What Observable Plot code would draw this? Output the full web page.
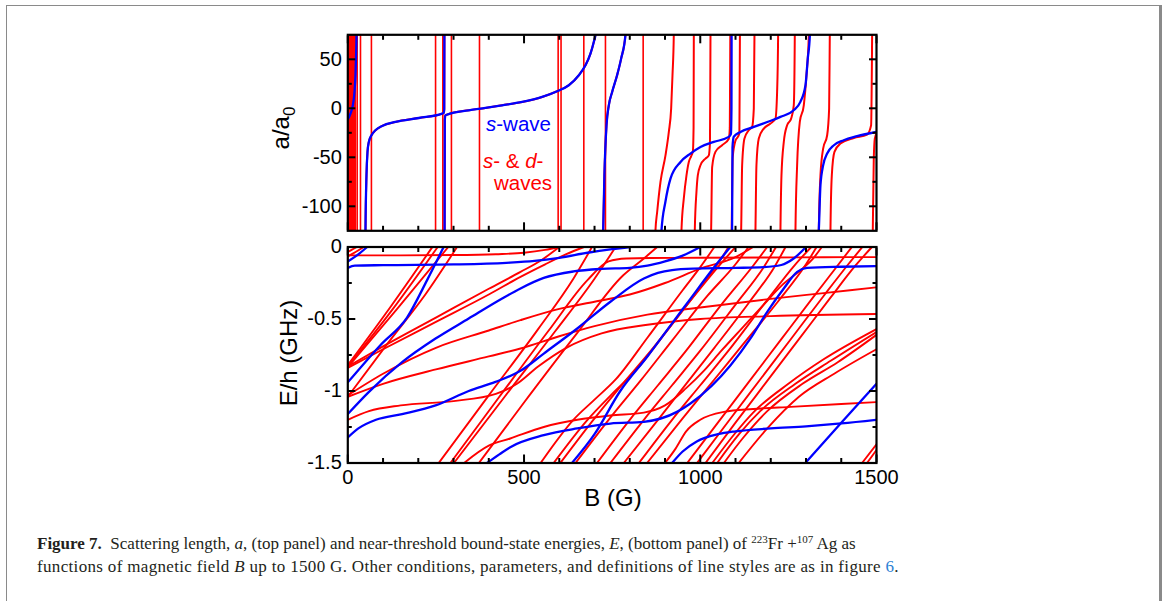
<!DOCTYPE html>
<html><head><meta charset="utf-8">
<script src="https://cdn.jsdelivr.net/npm/d3@7"></script>
<script src="https://cdn.jsdelivr.net/npm/@observablehq/plot@0.6"></script>
<style>
html,body{margin:0;padding:0;background:#fff;}
#page{position:relative;width:1174px;height:601px;overflow:hidden;font-family:"Liberation Sans",Arial,sans-serif;}
#frame{position:absolute;left:6px;top:5px;width:1152px;height:700px;border-left:1px solid #8a8a8a;border-top:1px solid #8a8a8a;border-right:3px solid #8a8a8a;}
#topchart{position:absolute;left:0;top:0;}
#botchart{position:absolute;left:0;top:236px;}
#caption{position:absolute;left:37px;top:532px;font-family:"Liberation Serif","Times New Roman",serif;font-size:17px;line-height:23px;color:#231f20;white-space:nowrap;}
#caption sup{font-size:11px;vertical-align:6px;line-height:0;}
#caption .l2{letter-spacing:0.33px;}
</style></head>
<body><div id="page"><div id="frame"></div><div id="topchart"></div><div id="botchart"></div>
<div id="caption"><b>Figure 7.</b>&nbsp; Scattering length, <i>a</i>, (top panel) and near-threshold bound-state energies, <i>E</i>, (bottom panel) of <sup>223</sup>Fr +<sup>107</sup> Ag as<br><span class="l2">functions of magnetic field <i>B</i> up to 1500 G. Other conditions, parameters, and definitions of line styles are as in figure <span style="color:#2a7fd4">6</span>.</span></div>
</div>
<script>
// ---------- axes / ticks ----------
const xMajor = [0, 500, 1000, 1500];
const xMinor = [100, 200, 300, 400, 600, 700, 800, 900, 1100, 1200, 1300, 1400];
const topYMajor = [50, 0, -50, -100];
const topYMinor = [25, -25, -75];
const botYMajor = [0, -0.5, -1, -1.5];
const botYMinor = [-0.25, -0.75, -1.25];

// ---------- top panel: a/a0 vs B ----------
// s-wave (blue) branches [B, a]
const topBlue = [
  [[0,-11.5],[7.6,-5.4],[14.3,3],[19,16.7],[21.8,33.7],[23.7,57.5],[24.7,75],[25.2,95]],
  [[50,-140],[50.2,-124.5],[53,-68.4],[55.9,-44.5],[59.7,-34.3],[67.2,-27.5],[78.6,-22.4],[97.5,-18],[135.3,-13.9],[201.5,-9.9],[267.7,-5.4],[272.5,-4.5],[273.6,-1],[274.2,95]],
  [[274.6,-140],[275.2,-12],[277,-7.2],[281.9,-6.4],[343.3,-2],[390.6,0.4],[437.9,3.1],[494.6,6.5],[551.4,11.6],[593.9,17.4],[627,23.5],[655.4,33.7],[674.3,43.9],[688.5,55.8],[697.9,67.7],[702.7,75.2],[705,95]],
  [[722,-140],[724.5,-124.5],[728,-68.4],[734,-17.3],[740.5,3],[750,16.7],[764,33.7],[775.5,50.7],[787.8,75.2],[790,95]],
  [[888,-140],[890,-124.5],[901,-95.6],[915.5,-71.7],[944,-54.7],[972,-46.2],[1000.6,-39.4],[1038.4,-34.3],[1081,-29.2],[1087,-26],[1088.5,0],[1089,95]],
  [[1090,-140],[1091.4,-40],[1095,-29],[1114,-24.1],[1152,-19],[1190,-14],[1227.5,-8.8],[1265,-2],[1284,6.5],[1298.5,23.5],[1305,50.7],[1311,75.2],[1313,95]],
  [[1334,-140],[1336.3,-124.5],[1341,-78.5],[1348.6,-58.2],[1360,-46.2],[1379,-37.7],[1407,-32.6],[1445,-28.5],[1500,-24.1]]
];
// s- & d-wave (red) branches [B, a]
const topRed = [
  [[0,-11.5],[7.6,-5.4],[14.3,3],[19,16.7],[21.8,33.7],[23.7,57.5],[24.7,75],[25.2,95]],
  [[50,-140],[50.2,-124.5],[53,-68.4],[55.9,-44.5],[59.7,-34.3],[67.2,-27.5],[78.6,-22.4],[97.5,-18],[135.3,-13.9],[201.5,-9.9],[267.7,-5.4],[272.5,-4.5],[273.6,-1],[274.2,95]],
  [[274.6,-140],[275.2,-12],[277,-7.2],[281.9,-6.4],[343.3,-2],[390.6,0.4],[437.9,3.1],[494.6,6.5],[551.4,11.6],[593.9,17.4],[627,23.5],[655.4,33.7],[674.3,43.9],[688.5,55.8],[697.9,67.7],[702.7,75.2],[705,95]],
  [[722,-140],[724.5,-124.5],[728,-68.4],[734,-17.3],[740.5,3],[750,16.7],[764,33.7],[775.5,50.7],[787.8,75.2],[790,95]],
  [[872,-140],[872.9,-124.5],[877.7,-105.8],[887.1,-75.2],[901.3,-48],[910.8,-24.1],[917.4,-0.3],[921.2,33.7],[924.9,75.2],[925.5,95]],
  [[946,-140],[946.7,-124.5],[953.3,-92],[960.9,-68.4],[967.5,-54.7],[974,-49],[979,-44],[981,-20],[981.7,75],[982,95]],
  [[984,-140],[984.5,-124.5],[989.2,-85.3],[993,-68.4],[1000.6,-58.1],[1014.8,-51.3],[1024.2,-48],[1027.5,-35],[1029,75],[1029.3,95]],
  [[1029.5,-140],[1030.8,-124.5],[1033.7,-60],[1043,-44.5],[1062,-37.7],[1081,-31],[1083.8,-20],[1085.2,75],[1085.5,95]],
  [[1088,-140],[1089,-124.5],[1092,-50],[1099.9,-33],[1107,-29],[1111,-25],[1112.5,75],[1113,95]],
  [[1114,-140],[1116,-124.5],[1118.8,-58.1],[1125.4,-30.9],[1137.7,-22.4],[1147.1,-19],[1151.9,-0.3],[1153.8,75.2],[1154,95]],
  [[1156,-140],[1156.6,-124.5],[1159.4,-58.1],[1166,-30.9],[1180.2,-20.7],[1199.2,-15.6],[1213.3,-10.5],[1218,16.7],[1220.9,75.2],[1221,95]],
  [[1227,-140],[1227.5,-124.5],[1230.4,-68.4],[1237,-34.3],[1246.4,-17.3],[1257.8,-10.5],[1265.3,3],[1268.2,75.2],[1268.5,95]],
  [[1270,-140],[1270.1,-124.5],[1274.8,-58.1],[1282.4,-13.9],[1293.7,3.1],[1301.3,33.7],[1308,75.2],[1309,95]],
  [[1336,-140],[1336.3,-124.5],[1341,-68.4],[1348.6,-41.1],[1360,-27.5],[1365.6,-0.3],[1367.5,75.2],[1368,95]],
  [[1369,-140],[1369.4,-124.5],[1373.2,-68.4],[1380.7,-44.5],[1397.7,-36],[1435.6,-30.3],[1473.4,-26.9],[1484.7,-17.3],[1487.6,75.2],[1488,95]],
  [[1489,-140],[1489.5,-124.5],[1492.3,-51.3],[1495.2,-30.9],[1500,-25.8]]
];
// narrow s&d resonances (B positions, G)
const topRedPoles = [0.8, 2.6, 4.4, 6.2, 8, 9.8, 11.6, 13.4, 15.2, 17.2, 19.2, 21.2, 26.6, 36, 67, 249, 269.6, 294, 373.6, 596.8, 605, 669.6, 731, 838];

// ---------- bottom panel: E/h (GHz) vs B ----------
const botBlue = [
  [[0,-0.1],[25,-0.06],[55,0]],
  [[0,-0.94],[93,-0.68],[168,-0.49],[225,-0.23],[272,0]],
  [[0,-0.145],[20,-0.13],[100,-0.126],[300,-0.121],[450,-0.11],[530,-0.097],[600,-0.075],[680,-0.04],[750,-0.015],[800,0]],
  [[0,-1.16],[60,-1.006],[154,-0.8],[249,-0.636],[343,-0.497],[438,-0.358],[490,-0.288],[556,-0.215],[640,-0.17],[720,-0.152],[800,-0.145],[850,-0.13],[900,-0.1],[950,-0.06],[1000,0]],
  [[0,-1.323],[30,-1.26],[80,-1.2],[154,-1.16],[249,-1.1],[343,-1.0],[419,-0.937],[490,-0.86],[556,-0.74],[651,-0.566],[745,-0.38],[840,-0.219],[880,-0.18],[920,-0.16],[980,-0.15],[1100,-0.145],[1180,-0.14],[1230,-0.125],[1265,-0.08],[1300,0]],
  [[395,-1.5],[430,-1.44],[461,-1.39],[556,-1.307],[651,-1.26],[745,-1.226],[840,-1.214],[934,-1.145],[972,-1.087],[1086,-0.821],[1142,-0.636],[1190,-0.45],[1237,-0.288],[1275,-0.173],[1303,-0.145],[1400,-0.137],[1500,-0.133]],
  [[636,-1.5],[700,-1.3],[773,-1.0],[850,-0.76],[920,-0.53],[972,-0.36],[1030,-0.17],[1085,0]],
  [[920,-1.5],[950,-1.42],[990,-1.35],[1050,-1.3],[1100,-1.28],[1200,-1.26],[1300,-1.245],[1400,-1.225],[1500,-1.2]],
  [[1298,-1.5],[1400,-1.22],[1500,-0.95]]
];
const botRed = [
  [[0,-0.035],[12,-0.018],[26,0]],
  [[0,-0.065],[22,-0.035],[45,0]],
  [[0,-0.058],[150,-0.058],[300,-0.056],[420,-0.05],[500,-0.04],[560,-0.02],[600,0]],
  [[0,-0.82],[120,-0.42],[240,0]],
  [[0,-0.83],[128,-0.43],[255,0]],
  [[0,-0.835],[140,-0.43],[285,0]],
  [[0,-1.04],[110,-0.68],[220,-0.33],[310,0]],
  [[0,-0.83],[100,-0.69],[250,-0.49],[400,-0.29],[490,-0.173],[550,-0.09],[600,0]],
  [[0,-0.84],[100,-0.71],[250,-0.52],[400,-0.33],[490,-0.207],[560,-0.12],[620,-0.05],[670,0]],
  [[0,-1.03],[100,-0.88],[250,-0.7],[400,-0.58],[490,-0.508],[600,-0.43],[700,-0.38],[800,-0.33],[900,-0.25],[1000,-0.15],[1100,-0.07],[1150,0]],
  [[0,-1.04],[100,-0.95],[250,-0.85],[400,-0.76],[490,-0.705],[600,-0.62],[700,-0.55],[850,-0.47],[1000,-0.42],[1200,-0.36],[1350,-0.32],[1500,-0.28]],
  [[0,-1.2],[60,-1.14],[150,-1.1],[300,-1.07],[420,-1.02],[480,-0.95],[540,-0.83],[620,-0.7],[720,-0.6],[850,-0.54],[1000,-0.5],[1200,-0.48],[1500,-0.465]],
  [[372,-1.5],[500,-1.08],[650,-0.6],[780,-0.2],[840,-0.08],[878,0]],
  [[258,-1.5],[400,-1.03],[540,-0.57],[640,-0.22],[693,0]],
  [[291,-1.5],[430,-1.04],[570,-0.58],[680,-0.23],[740,-0.1],[790,-0.08],[860,-0.076],[1000,-0.075],[1200,-0.073],[1350,-0.071],[1500,-0.07]],
  [[301,-1.5],[445,-1.04],[590,-0.58],[700,-0.22],[760,0]],
  [[547,-1.5],[640,-1.2],[700,-1.06],[760,-0.92],[850,-0.63],[950,-0.3],[1000,-0.14],[1040,0]],
  [[584,-1.5],[680,-1.2],[750,-1.02],[820,-0.85],[900,-0.6],[1000,-0.28],[1060,-0.08],[1080,0]],
  [[603,-1.5],[700,-1.19],[780,-0.95],[860,-0.72],[950,-0.44],[1050,-0.14],[1100,0]],
  [[646,-1.5],[740,-1.2],[830,-0.93],[920,-0.65],[1020,-0.34],[1100,-0.12],[1137,0]],
  [[707,-1.5],[800,-1.2],[880,-0.96],[960,-0.72],[1060,-0.4],[1150,-0.13],[1190,0]],
  [[745,-1.5],[840,-1.2],[920,-0.96],[1000,-0.72],[1100,-0.4],[1180,-0.14],[1215,0]],
  [[783,-1.5],[880,-1.2],[960,-0.95],[1040,-0.7],[1140,-0.38],[1210,-0.14],[1242,0]],
  [[826,-1.5],[920,-1.2],[1000,-0.96],[1080,-0.72],[1180,-0.4],[1270,-0.12],[1315,0]],
  [[849,-1.5],[950,-1.19],[1040,-0.92],[1120,-0.68],[1220,-0.38],[1300,-0.12],[1330,0]],
  [[963,-1.5],[1050,-1.22],[1140,-0.93],[1230,-0.64],[1320,-0.35],[1380,-0.16],[1430,0]],
  [[991,-1.5],[1080,-1.21],[1170,-0.92],[1260,-0.63],[1350,-0.34],[1420,-0.12],[1460,0]],
  [[1015,-1.5],[1100,-1.22],[1190,-0.93],[1280,-0.64],[1370,-0.35],[1440,-0.13],[1487,0]],
  [[1034,-1.5],[1100,-1.29],[1150,-1.15],[1250,-0.95],[1350,-0.78],[1500,-0.57]],
  [[1048,-1.5],[1110,-1.3],[1170,-1.14],[1270,-0.95],[1370,-0.79],[1500,-0.59]],
  [[1067,-1.5],[1120,-1.33],[1190,-1.14],[1290,-0.95],[1390,-0.8],[1500,-0.61]],
  [[1109,-1.5],[1190,-1.26],[1280,-1.04],[1380,-0.88],[1500,-0.71]],
  [[900,-1.5],[930,-1.4],[960,-1.28],[1000,-1.2],[1067,-1.145],[1150,-1.125],[1256,-1.11],[1400,-1.09],[1500,-1.077]],
  [[1459,-1.5],[1500,-1.37]],
  [[1473,-1.5],[1500,-1.41]],
  [[330,-1.5],[400,-1.38],[461,-1.33],[556,-1.25],[651,-1.2],[745,-1.17],[840,-1.15],[900,-1.1],[960,-0.98],[1010,-0.86],[1060,-0.72],[1120,-0.56],[1180,-0.4],[1230,-0.27],[1290,-0.15],[1320,-0.08],[1345,0]]
];

// ---------- helpers ----------
const rows = (branches) => branches.flatMap((br, i) => br.map(([B, v]) => ({id: i, B, v})));
const FONT = "Liberation Sans, Arial, sans-serif";

function frameAxes(yMajor, yMinor, yFmt, xLabels) {
  const k = {stroke: "black", strokeWidth: 2, label: null, fontSize: 20};
  const none = () => "";
  return [
    Plot.axisX(xMajor, {...k, anchor: "bottom", tickSize: -8, tickPadding: 14.5, tickFormat: xLabels ? (d) => String(d) : none}),
    Plot.axisX(xMinor, {...k, anchor: "bottom", tickSize: -4.5, tickFormat: none}),
    Plot.axisX(xMajor, {...k, anchor: "top", tickSize: -8, tickFormat: none}),
    Plot.axisX(xMinor, {...k, anchor: "top", tickSize: -4.5, tickFormat: none}),
    Plot.axisY(yMajor, {...k, anchor: "left", tickSize: -8, tickPadding: 14, tickFormat: yFmt}),
    Plot.axisY(yMinor, {...k, anchor: "left", tickSize: -4.5, tickFormat: none}),
    Plot.axisY(yMajor, {...k, anchor: "right", tickSize: -8, tickFormat: none}),
    Plot.axisY(yMinor, {...k, anchor: "right", tickSize: -4.5, tickFormat: none}),
    Plot.frame({stroke: "black", strokeWidth: 2.2})
  ];
}

// ---------- top chart ----------
const topSvg = Plot.plot({
  width: 1174, height: 240,
  marginLeft: 347.3, marginRight: 298, marginTop: 34.3, marginBottom: 9.7,
  style: {fontFamily: FONT, background: "transparent", color: "black"},
  x: {domain: [0, 1500]},
  y: {domain: [-125, 75]},
  marks: [
    Plot.ruleX(topRedPoles, {stroke: "#ff0000", strokeWidth: 1.6}),
    Plot.line(rows(topRed), {x: "B", y: "v", z: "id", stroke: "#ff0000", strokeWidth: 2, curve: "monotone-x", clip: true}),
    Plot.line(rows(topBlue), {x: "B", y: "v", z: "id", stroke: "#0000ff", strokeWidth: 2.3, curve: "monotone-x", clip: true}),
    ...frameAxes(topYMajor, topYMinor, (d) => String(d), false)
  ]
});
document.getElementById("topchart").appendChild(topSvg);

// ---------- bottom chart ----------
const botSvg = Plot.plot({
  width: 1174, height: 280,
  marginLeft: 347.3, marginRight: 298, marginTop: 10.5, marginBottom: 53.5,
  style: {fontFamily: FONT, background: "transparent", color: "black"},
  x: {domain: [0, 1500]},
  y: {domain: [-1.5, 0]},
  marks: [
    Plot.line(rows(botRed), {x: "B", y: "v", z: "id", stroke: "#ff0000", strokeWidth: 1.9, curve: "monotone-x", clip: true}),
    Plot.line(rows(botBlue), {x: "B", y: "v", z: "id", stroke: "#0000ff", strokeWidth: 2.3, curve: "monotone-x", clip: true}),
    ...frameAxes(botYMajor, botYMinor, (d) => String(d), true)
  ]
});
document.getElementById("botchart").appendChild(botSvg);

// ---------- labels & legend text ----------
const ts = d3.select(topSvg);
const aLab = ts.append("text").attr("transform", "translate(289,128) rotate(-90)").attr("text-anchor", "middle")
  .style("font-family", FONT).style("font-size", "24px").attr("fill", "black");
aLab.append("tspan").text("a/a");
aLab.append("tspan").attr("dy", 6).style("font-size", "17px").text("0");

const leg = ts.append("g").attr("text-anchor", "start").style("font-family", FONT).style("font-size", "20.5px");
const l1 = leg.append("text").attr("text-anchor", "start").attr("x", 486).attr("y", 131).attr("fill", "#0000ff");
l1.append("tspan").style("font-style", "italic").text("s");
l1.append("tspan").text("-wave");
const l2 = leg.append("text").attr("text-anchor", "start").attr("x", 483).attr("y", 168).attr("fill", "#ff0000");
l2.append("tspan").style("font-style", "italic").text("s");
l2.append("tspan").text("- & ");
l2.append("tspan").style("font-style", "italic").text("d");
l2.append("tspan").text("-");
leg.append("text").attr("text-anchor", "start").attr("x", 494).attr("y", 190).attr("fill", "#ff0000").text("waves");

const bs = d3.select(botSvg);
bs.append("text").attr("transform", "translate(297,117) rotate(-90)").attr("text-anchor", "middle")
  .style("font-family", FONT).style("font-size", "24px").attr("fill", "black").text("E/h (GHz)");
bs.append("text").attr("x", 613).attr("y", 270).attr("text-anchor", "middle")
  .style("font-family", FONT).style("font-size", "24px").attr("fill", "black").text("B (G)");
</script>
</body></html>
